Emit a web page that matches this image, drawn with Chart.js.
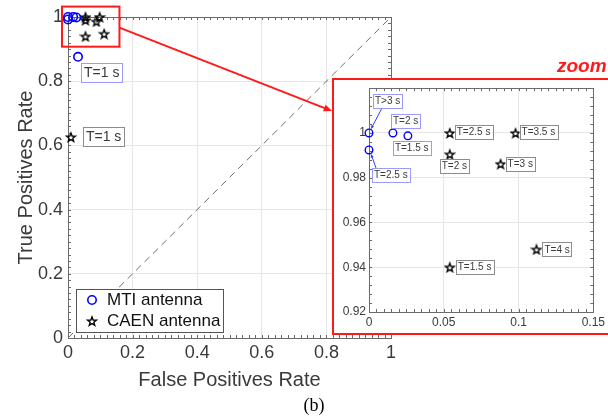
<!DOCTYPE html>
<html>
<head>
<meta charset="utf-8">
<script src="https://cdn.jsdelivr.net/npm/chart.js@4.4.0/dist/chart.umd.min.js"></script>
<style>
  html, body { margin: 0; padding: 0; background: #fff; }
  #wrap { position: relative; width: 608px; height: 419px; overflow: hidden; }
  #mainChart { position: absolute; left: 0; top: 0; }
  #zoomChart { position: absolute; left: 332px; top: 78px; }
</style>
</head>
<body>
<div id="wrap">
  <canvas id="mainChart" width="608" height="419"></canvas>
  <canvas id="zoomChart" width="276" height="257"></canvas>
</div>
<script>
// ROC operating points, one per detection window T
const mtiTimes = ['T=1 s', 'T=1.5 s', 'T=2 s', 'T=2.5 s', 'T>3 s'];
const mtiFpr = [0.031, 0.026, 0.016, 0, 0];
const mtiTpr = [0.876, 0.9987, 1, 0.9924, 1];

const caenTimes = ['T=1 s', 'T=1.5 s', 'T=2 s', 'T=2.5 s', 'T=3 s', 'T=3.5 s', 'T=4 s'];
const caenFpr = [0.009, 0.054, 0.054, 0.054, 0.088, 0.098, 0.112];
const caenTpr = [0.626, 0.94, 0.9905, 1, 0.9862, 1, 0.948];

const seriesNames = ['MTI antenna', 'CAEN antenna'];
const chanceFpr = [0, 1];
const chanceTpr = [0, 1];

const mainTicks = [0, 0.2, 0.4, 0.6, 0.8, 1];
const zoomXTicks = [0, 0.05, 0.1, 0.15];
const zoomYTicks = [0.92, 0.94, 0.96, 0.98, 1];
const zoomRange = { x: [0, 0.15], y: [0.92, 1.02] };

const TXT = '#3a3a3a';
const SANS = "'Liberation Sans', Arial, sans-serif";
const BLUE = '#0000ff';

const toPoints = (xs, ys) => xs.map((x, i) => ({ x: x, y: ys[i] }));
const shortNum = v => String(+Number(v).toFixed(4));

// outlined pentagram used as the CAEN marker
function makeStar(size, lw) {
  const c = document.createElement('canvas');
  c.width = size; c.height = size;
  const g = c.getContext('2d');
  const cx = size / 2, cy = size / 2 + 0.6;
  const R = size / 2 - lw, r = R * 0.42;
  g.beginPath();
  for (let i = 0; i < 10; i++) {
    const a = -Math.PI / 2 + i * Math.PI / 5;
    const rad = i % 2 ? r : R;
    g.lineTo(cx + rad * Math.cos(a), cy + rad * Math.sin(a));
  }
  g.closePath();
  g.lineWidth = lw;
  g.strokeStyle = '#000';
  g.stroke();
  return c;
}
const starMarker = makeStar(12, 1.4);

function tag(ctx, x, y, text, fontPx, pad, h, border) {
  ctx.font = fontPx + 'px ' + SANS;
  const w = ctx.measureText(text).width + pad * 2;
  ctx.fillStyle = '#fff';
  ctx.fillRect(x, y, w, h);
  ctx.strokeStyle = border;
  ctx.lineWidth = 1;
  ctx.strokeRect(Math.round(x) + 0.5, Math.round(y) + 0.5, Math.round(w), h);
  ctx.fillStyle = TXT;
  ctx.textAlign = 'left';
  ctx.textBaseline = 'middle';
  ctx.fillText(text, x + pad, y + h / 2 + 0.5);
}

function arrow(ctx, x1, y1, x2, y2, color, lw, head) {
  const a = Math.atan2(y2 - y1, x2 - x1);
  ctx.strokeStyle = color;
  ctx.fillStyle = color;
  ctx.lineWidth = lw;
  ctx.beginPath();
  ctx.moveTo(x1, y1);
  ctx.lineTo(x2 - Math.cos(a) * head * 0.8, y2 - Math.sin(a) * head * 0.8);
  ctx.stroke();
  ctx.beginPath();
  ctx.moveTo(x2, y2);
  ctx.lineTo(x2 - head * Math.cos(a - 0.4), y2 - head * Math.sin(a - 0.4));
  ctx.lineTo(x2 - head * Math.cos(a + 0.4), y2 - head * Math.sin(a + 0.4));
  ctx.closePath();
  ctx.fill();
}

// axes box with small inward ticks, MATLAB style
function axesBox(chart, minorX, minorY) {
  const { ctx, chartArea: a, scales } = chart;
  ctx.save();
  ctx.strokeStyle = '#6a6a6a';
  ctx.lineWidth = 1;
  ctx.strokeRect(Math.round(a.left) + 0.5, Math.round(a.top) + 0.5,
    Math.round(a.right - a.left), Math.round(a.bottom - a.top));
  ctx.beginPath();
  const xs = scales.x, ys = scales.y;
  for (let v = xs.min; v <= xs.max + 1e-9; v += minorX) {
    const px = Math.round(xs.getPixelForValue(v)) + 0.5;
    ctx.moveTo(px, a.bottom); ctx.lineTo(px, a.bottom - 3);
    ctx.moveTo(px, a.top); ctx.lineTo(px, a.top + 3);
  }
  for (let v = ys.min; v <= ys.max + 1e-9; v += minorY) {
    const py = Math.round(ys.getPixelForValue(v)) + 0.5;
    ctx.moveTo(a.left, py); ctx.lineTo(a.left + 3, py);
    ctx.moveTo(a.right, py); ctx.lineTo(a.right - 3, py);
  }
  ctx.stroke();
  ctx.restore();
}

function pointAt(chart, ds, i) {
  const el = chart.getDatasetMeta(ds).data[i];
  return { x: el.x, y: el.y };
}

// tag placement relative to the marker, optional arrow
const mainTags = [
  { ds: 1, i: 0, text: mtiTimes[0], dx: 3, dy: 6, border: '#9a9aff' },
  { ds: 2, i: 0, text: caenTimes[0], dx: 12, dy: -10, border: '#8c8c8c' }
];
const zoomTags = [
  { ds: 0, i: 1, text: mtiTimes[1], dx: -15, dy: 5, border: '#9a9aff' },
  { ds: 0, i: 2, text: mtiTimes[2], dx: -2, dy: -19, border: '#9a9aff' },
  { ds: 0, i: 3, text: mtiTimes[3], dx: 3, dy: 18, border: '#9a9aff', arrow: [7, 18, 2, 4] },
  { ds: 0, i: 4, text: mtiTimes[4], dx: 4, dy: -39, border: '#9a9aff', arrow: [13, -25, 2, -4] },
  { ds: 1, i: 1, text: caenTimes[1], dx: 6, dy: -7, border: '#8c8c8c' },
  { ds: 1, i: 2, text: caenTimes[2], dx: -10, dy: 5, border: '#8c8c8c' },
  { ds: 1, i: 3, text: caenTimes[3], dx: 5, dy: -8, border: '#8c8c8c' },
  { ds: 1, i: 4, text: caenTimes[4], dx: 5, dy: -7, border: '#8c8c8c' },
  { ds: 1, i: 5, text: caenTimes[5], dx: 4, dy: -8, border: '#8c8c8c' },
  { ds: 1, i: 6, text: caenTimes[6], dx: 6, dy: -7, border: '#8c8c8c' }
];

const mainDecor = {
  id: 'mainDecor',
  beforeDatasetsDraw(chart) { axesBox(chart, 0.02, 0.02); },
  afterDatasetsDraw(chart) {
    const { ctx, scales } = chart;
    ctx.save();
    mainTags.forEach(t => {
      const p = pointAt(chart, t.ds, t.i);
      tag(ctx, p.x + t.dx, p.y + t.dy, t.text, 14, 3, 19, t.border);
    });

    // legend
    ctx.strokeStyle = '#555';
    ctx.lineWidth = 1;
    ctx.fillStyle = '#fff';
    ctx.fillRect(76, 289, 147, 43);
    ctx.strokeRect(76.5, 289.5, 147, 43);
    ctx.beginPath();
    ctx.arc(92, 300, 4.2, 0, Math.PI * 2);
    ctx.strokeStyle = BLUE;
    ctx.lineWidth = 1.6;
    ctx.stroke();
    ctx.drawImage(starMarker, 86, 315);
    ctx.fillStyle = '#111';
    ctx.font = '17px ' + SANS;
    ctx.textAlign = 'left';
    ctx.textBaseline = 'middle';
    ctx.fillText(seriesNames[0], 107, 300);
    ctx.fillText(seriesNames[1], 107, 321);

    // red frame around the magnified region and pointer to the inset
    const xs = scales.x, ys = scales.y;
    const l = xs.getPixelForValue(zoomRange.x[0]) - 6;
    const r = xs.getPixelForValue(zoomRange.x[1]) + 3;
    const t = ys.getPixelForValue(zoomRange.y[1]) - 4;
    const b = ys.getPixelForValue(zoomRange.y[0]) + 4;
    ctx.strokeStyle = '#ff1a1a';
    ctx.lineWidth = 2;
    ctx.strokeRect(l, t, r - l, b - t);
    arrow(ctx, r, t + 21, 332, 111, '#ff1a1a', 2, 9);

    ctx.fillStyle = '#ff1a1a';
    ctx.font = 'italic bold 19px ' + SANS;
    ctx.textBaseline = 'alphabetic';
    ctx.fillText('zoom', 557, 72);

    ctx.fillStyle = '#000';
    ctx.font = "18px 'Liberation Serif', 'Times New Roman', serif";
    ctx.textAlign = 'center';
    ctx.textBaseline = 'middle';
    ctx.fillText('(b)', 314, 406);
    ctx.restore();
  }
};

const zoomDecor = {
  id: 'zoomDecor',
  beforeDraw(chart) {
    const { ctx, width, height } = chart;
    ctx.save();
    ctx.fillStyle = '#fff';
    ctx.fillRect(0, 0, width, height);
    ctx.restore();
  },
  beforeDatasetsDraw(chart) { axesBox(chart, 0.005, 0.004); },
  afterDatasetsDraw(chart) {
    const { ctx, width, height } = chart;
    ctx.save();
    zoomTags.forEach(t => {
      const p = pointAt(chart, t.ds, t.i);
      if (t.arrow) {
        arrow(ctx, p.x + t.arrow[0], p.y + t.arrow[1], p.x + t.arrow[2], p.y + t.arrow[3], '#3b3bff', 1, 4);
      }
      tag(ctx, p.x + t.dx, p.y + t.dy, t.text, 10, 2, 14, t.border);
    });
    // open-ended red frame: top, left and bottom edges
    ctx.strokeStyle = '#ff1a1a';
    ctx.lineWidth = 2;
    ctx.beginPath();
    ctx.moveTo(width, 1);
    ctx.lineTo(1, 1);
    ctx.lineTo(1, height - 1);
    ctx.lineTo(width, height - 1);
    ctx.stroke();
    ctx.restore();
  }
};

function fixedTicks(list) {
  return scale => { scale.ticks = list.map(v => ({ value: v })); };
}

const mtiStyle = {
  pointStyle: 'circle', pointRadius: 4.2, pointBorderWidth: 1.6,
  pointBorderColor: BLUE, pointBackgroundColor: 'rgba(0,0,0,0)',
  showLine: false, clip: false
};
const caenStyle = {
  pointStyle: starMarker, pointRadius: 6, showLine: false, clip: false
};

new Chart(document.getElementById('mainChart'), {
  type: 'scatter',
  data: {
    datasets: [
      { label: 'chance', data: toPoints(chanceFpr, chanceTpr), showLine: true,
        borderColor: '#6e6e6e', borderWidth: 1, borderDash: [7, 5], pointRadius: 0 },
      Object.assign({ label: seriesNames[0], data: toPoints(mtiFpr, mtiTpr) }, mtiStyle),
      Object.assign({ label: seriesNames[1], data: toPoints(caenFpr, caenTpr) }, caenStyle)
    ]
  },
  options: {
    responsive: false,
    animation: false,
    events: [],
    layout: { padding: { left: 0, top: 17, right: 217, bottom: 26 } },
    plugins: { legend: { display: false }, tooltip: { enabled: false } },
    scales: {
      x: {
        type: 'linear', min: 0, max: 1,
        afterBuildTicks: fixedTicks(mainTicks),
        afterFit: s => { s.height = 55; },
        grid: { color: '#e6e6e6', drawTicks: false },
        border: { display: false },
        ticks: { color: TXT, padding: 4, font: { family: SANS, size: 18 }, callback: shortNum },
        title: { display: true, text: 'False Positives Rate', color: TXT,
          font: { family: SANS, size: 20 }, padding: { top: 0, bottom: 1 } }
      },
      y: {
        type: 'linear', min: 0, max: 1,
        afterBuildTicks: fixedTicks(mainTicks),
        afterFit: s => { s.width = 68; },
        grid: { color: '#e6e6e6', drawTicks: false },
        border: { display: false },
        ticks: { color: TXT, padding: 5, font: { family: SANS, size: 18 }, callback: shortNum },
        title: { display: true, text: 'True Positives Rate', color: TXT,
          font: { family: SANS, size: 20 }, padding: { top: 14, bottom: 0 } }
      }
    }
  },
  plugins: [mainDecor]
});

new Chart(document.getElementById('zoomChart'), {
  type: 'scatter',
  data: {
    datasets: [
      Object.assign({ label: seriesNames[0], data: toPoints(mtiFpr, mtiTpr) }, mtiStyle, { pointRadius: 3.8, pointBorderWidth: 1.4 }),
      Object.assign({ label: seriesNames[1], data: toPoints(caenFpr, caenTpr) }, caenStyle)
    ]
  },
  options: {
    responsive: false,
    animation: false,
    events: [],
    layout: { padding: { left: 0, top: 9, right: 13, bottom: 0 } },
    plugins: { legend: { display: false }, tooltip: { enabled: false } },
    scales: {
      x: {
        type: 'linear', min: zoomRange.x[0], max: zoomRange.x[1],
        afterBuildTicks: fixedTicks(zoomXTicks),
        afterFit: s => { s.height = 23; },
        grid: { color: '#e6e6e6', drawTicks: false },
        border: { display: false },
        ticks: { color: TXT, padding: 3, font: { family: SANS, size: 12 }, callback: shortNum }
      },
      y: {
        type: 'linear', min: zoomRange.y[0], max: zoomRange.y[1],
        afterBuildTicks: fixedTicks(zoomYTicks),
        afterFit: s => { s.width = 37; },
        grid: { color: '#e6e6e6', drawTicks: false },
        border: { display: false },
        ticks: { color: TXT, padding: 3, font: { family: SANS, size: 12 }, callback: shortNum }
      }
    }
  },
  plugins: [zoomDecor]
});
</script>
</body>
</html>
